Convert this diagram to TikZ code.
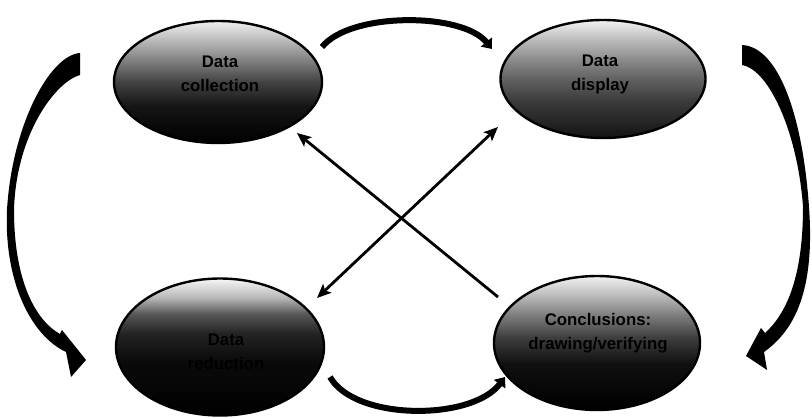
\documentclass[tikz,border=0pt]{standalone}
\usepackage{fontspec}
\setmainfont{Liberation Sans}
\usetikzlibrary{arrows.meta,shapes.geometric}
\pgfdeclareverticalshading{shTL}{100bp}{color(0bp)=(black); color(25bp)=(black); color(40bp)=(black!92); color(50bp)=(black!74); color(58bp)=(black!52); color(66bp)=(black!30); color(75bp)=(black!6); color(100bp)=(black!6)}
\pgfdeclareverticalshading{shTR}{100bp}{color(0bp)=(black!92); color(25bp)=(black!92); color(40bp)=(black!78); color(50bp)=(black!62); color(58bp)=(black!46); color(66bp)=(black!28); color(75bp)=(black!5); color(100bp)=(black!5)}
\pgfdeclareverticalshading{shBL}{100bp}{color(0bp)=(black); color(25bp)=(black); color(45bp)=(black!96); color(55bp)=(black!86); color(62bp)=(black!66); color(68bp)=(black!28); color(75bp)=(black!3); color(100bp)=(black!3)}
\pgfdeclareverticalshading{shBR}{100bp}{color(0bp)=(black); color(25bp)=(black); color(42bp)=(black!94); color(52bp)=(black!76); color(60bp)=(black!52); color(68bp)=(black!26); color(75bp)=(black!5); color(100bp)=(black!5)}
\begin{document}
\begin{tikzpicture}[x=1pt,y=-1pt,
  bubble/.style={ellipse, draw=black, line width=2.4pt, inner sep=0pt, shade, shading angle=0},
  lbl/.style={font=\fontsize{16.8}{24}\selectfont\bfseries, align=center, text=black, inner sep=0pt},
  cross/.style={line width=2.8pt, draw=black},
  crosshead/.tip={Stealth[length=14pt,width=12pt,inset=3pt]},
  swoop/.style={line width=6pt, draw=black, -{Triangle[length=9pt,width=14pt]}},
  bigswoop/.style={fill=black}]
\useasboundingbox (0,0) rectangle (812,419);

% bubbles
\node[bubble, shading=shTL, minimum width=208pt, minimum height=122pt] (tl) at (218,82) {};
\node[bubble, shading=shTR, minimum width=205pt, minimum height=118pt] (tr) at (603,79) {};
\node[bubble, shading=shBL, minimum width=208pt, minimum height=137pt] (bl) at (220,347) {};
\node[bubble, shading=shBR, minimum width=206pt, minimum height=134pt] (br) at (597,343) {};

% labels
\node[lbl] (tlt) at (220,74) {Data\\collection};
\node[lbl] (trt) at (600,74) {Data\\display};
\node[lbl] (blt) at (226,352) {Data\\reduction};
\node[lbl] (brt) at (598,333) {Conclusions:\\drawing/verifying};

% connector end points
\coordinate (ta) at (322,47);
\coordinate (tb) at (492,49);
\coordinate (ba) at (330,377);
\coordinate (bb) at (505,377);
\coordinate (x1a) at (498,297);
\coordinate (x1b) at (297,133);
\coordinate (x2a) at (317,298);
\coordinate (x2b) at (498,127);

% top and bottom arcs
\draw[swoop] (ta) .. controls (350,12) and (462,12) .. (tb);
\draw[swoop] (ba) .. controls (355,421) and (472,421) .. (bb);

% crossing arrows
\draw[cross, -crosshead] (x1a) -- (x1b);
\draw[cross, crosshead-crosshead] (x2a) -- (x2b);

% left big swoosh
\fill[bigswoop] (80,53) .. controls (50,55) and (12,125) .. (7,210)
  .. controls (4,280) and (30,335) .. (66,352)
  -- (71,377) -- (86,360) -- (62,330) -- (60,334)
  .. controls (35,320) and (14,280) .. (14,210)
  .. controls (16,135) and (55,82) .. (80,75) -- cycle;

% right big swoosh
\fill[bigswoop] (742,45) .. controls (780,47) and (803,120) .. (809,207)
  .. controls (815,290) and (795,330) .. (764,352)
  -- (767,370) -- (746,356) -- (761,328) -- (765,333)
  .. controls (785,315) and (803,280) .. (803,207)
  .. controls (798,135) and (770,70) .. (742,65) -- cycle;
\end{tikzpicture}
\end{document}
